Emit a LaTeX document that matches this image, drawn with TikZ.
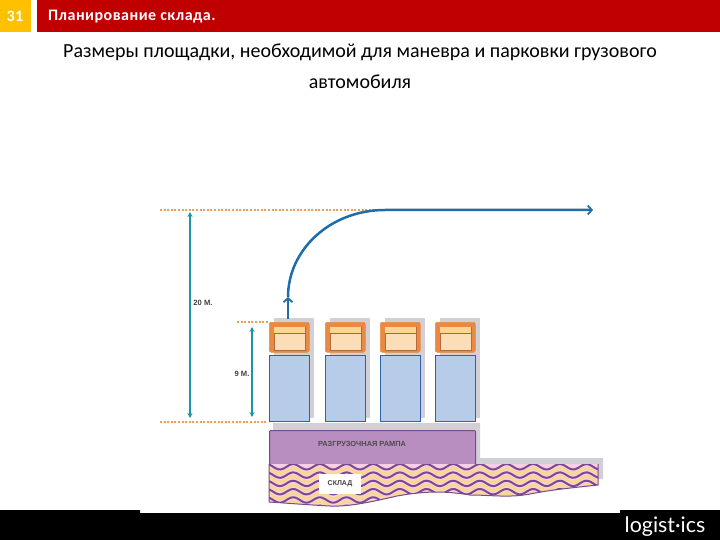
\documentclass[tikz,border=0pt]{standalone}
\usepackage{fontspec}
\setmainfont{Carlito}
\newfontfamily\hdrfont[LetterSpace=3]{Carlito}
\newfontfamily\logofont{Lato}
\newfontfamily\labfont{Liberation Sans}
\usetikzlibrary{arrows.meta}
\definecolor{hdrred}{HTML}{C00000}
\definecolor{hdryel}{HTML}{FFC000}
\definecolor{guide}{HTML}{F0A050}
\definecolor{dimteal}{HTML}{1B93A8}
\definecolor{routeblue}{HTML}{1F6CA8}
\definecolor{cabor}{HTML}{E98A42}
\definecolor{cabin}{HTML}{FBDDB8}
\definecolor{winline}{HTML}{B8683A}
\definecolor{cargo}{HTML}{B7CCE9}
\definecolor{cargoline}{HTML}{2F62A8}
\definecolor{shadegrey}{HTML}{D2D0D6}
\definecolor{ramp}{HTML}{B88DBF}
\definecolor{rampline}{HTML}{7A4A90}
\definecolor{wavepink}{HTML}{F8CFE2}
\definecolor{waveyel}{HTML}{FBD690}
\definecolor{stripe}{HTML}{C2479A}
\tikzset{
  guideline/.style={guide,line width=1.1pt,dash pattern=on 2pt off 1.6pt},
  dimline/.style={dimteal,line width=1.3pt,{Stealth[length=5pt,width=5pt]}-{Stealth[length=5pt,width=5pt]}},
  route/.style={routeblue,line width=2.5pt,-{Straight Barb[length=4pt,width=9pt,line width=1.8pt]}},
  hdrtext/.style={text=white,font=\hdrfont\bfseries\fontsize{16}{18}\selectfont,inner sep=0pt},
  titletext/.style={text=black,font=\fontsize{20}{24}\selectfont,inner sep=0pt},
  smalllab/.style={text=black!75,font=\labfont\bfseries\fontsize{7.6}{9}\selectfont,inner sep=1pt},
}
\begin{document}
\begin{tikzpicture}[x=1pt,y=-1pt]
\useasboundingbox (0,0) rectangle (720,540);
\fill[white] (0,0) rectangle (720,540);
% header
\fill[hdryel] (0,0) rectangle (31,32);
\fill[hdrred] (37,0) rectangle (720,32);
\node[hdrtext,anchor=center] (num) at (15,16.5) {31};
\node[hdrtext,anchor=west] (hdr) at (48,17) {Планирование склада.};
\node[titletext] (t1) at (360,52) {Размеры площадки, необходимой для маневра и парковки грузового};
\node[titletext] (t2) at (360,82) {автомобиля};
% footer
\fill[black] (0,510) -- (140,510) -- (140,513) -- (620,513) -- (620,510) -- (720,510) -- (720,540) -- (0,540) -- cycle;
\node[text=white,font=\logofont\fontsize{21.4}{24}\selectfont,inner sep=0pt] (logo) at (665,527) {logist·ics};
% shadows
\fill[shadegrey] (273,423) -- (480,423) -- (480,458) -- (603,458) -- (603,479) -- (598,479) -- (598,464) -- (273,464) -- cycle;
\foreach \x in {269,325,380,435}{
  \fill[shadegrey] (\x+5,318) rectangle (\x+45,418);
}
% ramp
\node[draw=rampline,fill=ramp,line width=1pt,minimum width=206pt,minimum height=34pt,inner sep=0pt,anchor=north west,rounded corners=1pt] (rampbox) at (269,430) {};
\node[text=black!70,font=\labfont\bfseries\fontsize{7.4}{8}\selectfont,inner sep=0pt] (ramplabel) at (362,444) {РАЗГРУЗОЧНАЯ РАМПА};
% warehouse band
\begin{scope}
\path[clip] (269,464) -- (598,464) -- (598,485) .. controls (570,488) and (550,490) .. (530,494) .. controls (510,498) and (490,495) .. (470,495) .. controls (440,490) and (420,492) .. (397,496) .. controls (375,501) and (350,507) .. (330,506) .. controls (310,505) and (285,503) .. (269,502) -- cycle;
\fill[wavepink] (260,460) rectangle (605,510);
\foreach \r in {0,1,2,3,4,5}{
  \draw[waveyel,line width=2.8pt] plot[domain=262:605,samples=170,smooth] (\x,{471+8.3*\r+2.7*sin(13.5*(\x-273.2))});
  \draw[rampline,line width=2pt] plot[domain=262:605,samples=170,smooth] (\x,{466.8+8.3*\r+2.7*sin(13.5*(\x-273.2))});
}
\end{scope}
\draw[rampline,line width=1pt] (269,464) -- (269,502) .. controls (285,503) and (310,505) .. (330,506) .. controls (350,507) and (375,501) .. (397,496) .. controls (420,492) and (440,490) .. (470,495) .. controls (490,495) and (510,498) .. (530,494) .. controls (550,490) and (570,488) .. (598,485) -- (598,464);
\node[fill=white,text=black!75,font=\labfont\bfseries\fontsize{7}{8}\selectfont,minimum width=42pt,minimum height=20pt,inner sep=0pt] (store) at (340,484) {СКЛАД};
% trucks
\foreach \x/\n in {269/a,325/b,380/c,435/d}{
  \node[draw=cargoline,fill=cargo,line width=1.1pt,minimum width=40pt,minimum height=66pt,inner sep=0pt,anchor=north west] (cargo\n) at (\x,355) {};
  \node[draw=cabor,fill=cabor,line width=0.5pt,rounded corners=2pt,minimum width=40pt,minimum height=30pt,inner sep=0pt,anchor=north west] (cab\n) at (\x,322) {};
  \node[draw=winline,fill=cabin,line width=0.7pt,minimum width=31pt,minimum height=23pt,inner sep=0pt,anchor=north west] (win\n) at (\x+4.5,327) {};
  \fill[waveyel] (\x+4.5,327.4) rectangle (\x+35.5,332.6);
  \draw[stripe,line width=0.8pt] (\x+4.5,333) -- (\x+35.5,333);
}
% guides
\coordinate (g1a) at (160,210); \coordinate (g1b) at (385,210);
\coordinate (g2a) at (237,322); \coordinate (g2b) at (268,322);
\coordinate (g3a) at (160,422); \coordinate (g3b) at (268,422);
\draw[guideline] (g1a) -- (g1b);
\draw[guideline] (g2a) -- (g2b);
\draw[guideline] (g3a) -- (g3b);
% dimensions
\coordinate (d1a) at (190,212); \coordinate (d1b) at (190,418);
\coordinate (d2a) at (252,327); \coordinate (d2b) at (252,417);
\draw[dimline] (d1a) -- (d1b);
\draw[dimline] (d2a) -- (d2b);
\node[fill=white,smalllab] (l20) at (203,303) {20 М.};
\node[fill=white,smalllab] (l9) at (242,374) {9 М.};
% route
\coordinate (r0) at (288,319); \coordinate (r1) at (288,297);
\coordinate (r2) at (385,210); \coordinate (r3) at (593,210);
\draw[route] (r0) -- (r1);
\draw[route] (r1) .. controls (288,250) and (330,210) .. (r2) -- (r3);
\end{tikzpicture}
\end{document}
